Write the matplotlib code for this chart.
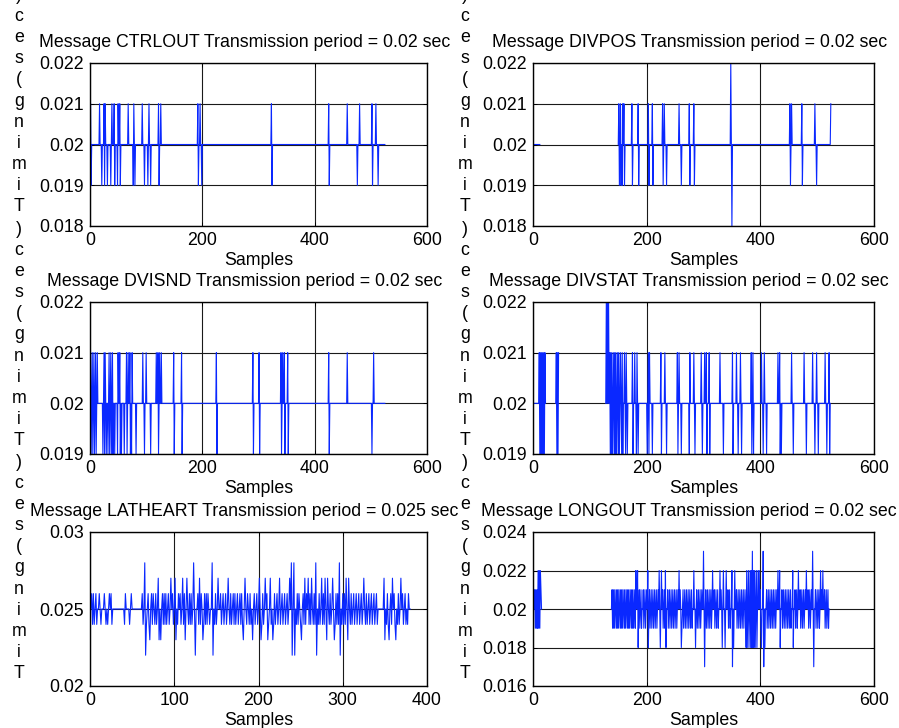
import numpy as np
import matplotlib
matplotlib.use('Agg')
from matplotlib import pyplot as plt
from matplotlib.ticker import FuncFormatter, MultipleLocator

plt.rcParams['font.family'] = 'Liberation Sans'
plt.rcParams['font.size'] = 12.8

# Interval between consecutive messages, in ms. Samples that are not
# listed sit at the nominal period; gaps are sample ranges with no record.
ctrlout_n = 525
ctrlout_nominal = 20
ctrlout_dev = {
    21: [1, 17, 25, 27, 39, 43, 50, 53, 68, 78, 93, 105, 122, 126, 192, 196,
         323, 425, 458, 480, 502, 509],
    19: [2, 21, 26, 31, 37, 44, 49, 54, 77, 80, 97, 103, 108, 123, 193, 199,
         324, 426, 476, 503, 513],
}
ctrlout_gaps = []

divpos_n = 524
divpos_nominal = 20
divpos_dev = {
    22: [348],
    21: [151, 154, 158, 160, 174, 185, 203, 210, 228, 231, 257, 275, 283,
         452, 455, 473, 496, 524],
    19: [152, 155, 157, 161, 175, 186, 204, 211, 229, 235, 261, 276, 284,
         453, 474, 499],
    18: [350],
}
divpos_gaps = [(13, 149)]

dvisnd_n = 525
dvisnd_nominal = 20
dvisnd_dev = {
    21: [1, 4, 7, 10, 13, 25, 27, 34, 37, 40, 50, 53, 65, 68, 71, 75, 94, 100,
         118, 121, 124, 127, 149, 163, 225, 290, 301, 340, 343, 346, 352, 425,
         458, 505],
    19: [2, 5, 8, 11, 23, 26, 29, 32, 35, 38, 41, 44, 49, 54, 56, 61, 66, 72,
         74, 82, 97, 108, 122, 150, 164, 226, 291, 302, 341, 347, 353, 426, 502],
}
dvisnd_gaps = []

divstat_n = 523
divstat_nominal = 20
divstat_dev = {
    22: [129, 131, 133],
    21: [11, 13, 15, 17, 19, 21, 41, 43, 45,
         135, 137, 139, 142, 144, 146, 149, 151, 154, 157, 161, 164, 175, 179,
         183, 203, 205, 225, 232, 254, 257, 276, 283, 296, 302, 305, 310, 329,
         351, 358, 365, 384, 387, 402, 407, 431, 434, 455, 477, 492, 499, 514,
         521],
    19: [12, 14, 16, 18, 20, 42, 44,
         136, 138, 140, 143, 145, 147, 150, 152, 156, 158, 163, 166, 176, 182,
         185, 201, 204, 210, 226, 235, 255, 261, 275, 285, 298, 306, 311, 335,
         352, 361, 367, 385, 388, 405, 411, 435, 437, 458, 481, 496, 502, 517,
         522],
}
divstat_gaps = [(23, 39), (46, 127)]

latheart_n = 380
latheart_nominal = 25
latheart_dev = {
    28: [65, 123, 145, 239, 242, 268, 296],
    27: [81, 96, 101, 110, 115, 130, 152, 164, 184, 201, 208, 214, 225, 237,
         255, 259, 263, 275, 279, 282, 288, 304, 307, 325, 349, 359, 369],
    26: [2, 4, 7, 11, 17, 23, 25, 42, 49, 62, 69, 73, 75, 78, 86, 88, 90, 93,
         98, 105, 107, 112, 118, 120, 128, 132, 136, 138, 140, 149, 155, 158,
         161, 167, 170, 172, 175, 178, 180, 187, 190, 195, 198, 205, 210, 219,
         222, 228, 231, 234, 246, 248, 253, 257, 261, 266, 272, 277, 285, 292,
         294, 300, 302, 310, 313, 316, 319, 322, 328, 331, 334, 337, 340, 353,
         357, 361, 366, 371, 374, 378],
    24: [3, 5, 8, 13, 19, 21, 26, 41, 47, 63, 67, 70, 74, 77, 79, 87, 89, 91,
         94, 99, 104, 108, 111, 117, 119, 121, 129, 131, 135, 137, 139, 142,
         148, 150, 156, 159, 162, 166, 168, 171, 173, 176, 179, 181, 186, 189,
         191, 196, 199, 204, 206, 212, 215, 218, 220, 223, 226, 229, 232, 235,
         245, 247, 250, 254, 256, 260, 262, 265, 267, 271, 273, 276, 278, 284,
         286, 291, 293, 295, 299, 301, 303, 309, 311, 314, 317, 320, 323, 327,
         329, 332, 335, 338, 341, 352, 354, 358, 362, 365, 367, 372, 375, 377],
    23: [71, 82, 84, 102, 113, 134, 182, 193, 203, 211, 217, 251, 281, 290,
         306, 350, 355, 363],
    22: [66, 125, 146, 240, 243, 269, 297],
}
latheart_gaps = []

longout_n = 521
longout_nominal = 20
longout_dev = {
    23: [300, 386, 405, 492],
    22: [9, 11, 13,
         181, 184, 202, 222, 226, 233, 257, 283, 316, 329, 335, 340, 350, 355,
         376, 379, 382, 384, 388, 390, 393, 396, 398, 431, 434, 457,
         467, 481, 506, 510],
    21: [3, 5, 7, 14,
         139, 141, 143, 146, 148, 150, 153, 155, 157, 160, 162, 165, 167, 169,
         172, 174, 176, 179,
         187, 190, 194, 197, 200, 205, 208, 211, 214, 217, 220, 228, 231, 237,
         240, 243, 246, 249, 252, 255, 259, 264, 267, 270, 273, 276, 279, 288,
         291, 294, 297, 304, 307, 310, 313, 319, 322, 325, 331, 343, 346, 358,
         361, 364, 367, 370, 373, 400, 411, 414, 417, 420, 423, 426, 429, 438,
         441, 444, 447, 450, 453, 461, 464, 470, 473, 476, 479, 484, 487, 490,
         497, 500, 503, 508, 513, 516, 519],
    19: [4, 6, 8, 10, 12,
         140, 142, 144, 147, 149, 151, 154, 156, 158, 161, 163, 166, 168, 170,
         173, 175, 177, 180,
         188, 191, 195, 198, 206, 209, 212, 215, 218, 229, 232, 238, 241, 244,
         247, 250, 253, 262, 265, 268, 271, 274, 277, 280, 289, 292, 295, 305,
         308, 311, 314, 320, 323, 326, 344, 347, 359, 362, 365, 368, 371, 401,
         412, 415, 418, 421, 424, 427, 439, 442, 445, 448, 451, 454, 462, 465,
         471, 474, 477, 485, 488, 498, 501, 504, 514, 517, 520],
    18: [185, 203, 224, 234, 261, 286, 333, 338, 353, 375, 377, 380, 383,
         385, 387, 389, 391, 394, 402, 408, 435, 458],
    17: [302, 351, 406, 494],
}
longout_gaps = [(16, 137)]


def build_series(n, nominal, dev, gaps):
    y = np.full(n, nominal, dtype=float)
    for ms, samples in dev.items():
        y[np.array(samples) - 1] = ms
    for a, b in gaps:
        y[a - 1:b] = np.nan
    return np.arange(1, n + 1), y / 1000.0


# name, period label, series, xmax, xstep, ymin, ymax, ystep
panels = [
    ('CTRLOUT', '0.02', build_series(ctrlout_n, ctrlout_nominal, ctrlout_dev, ctrlout_gaps),
     600, 200, 0.018, 0.022, 0.001),
    ('DIVPOS', '0.02', build_series(divpos_n, divpos_nominal, divpos_dev, divpos_gaps),
     600, 200, 0.018, 0.022, 0.001),
    ('DVISND', '0.02', build_series(dvisnd_n, dvisnd_nominal, dvisnd_dev, dvisnd_gaps),
     600, 200, 0.019, 0.022, 0.001),
    ('DIVSTAT', '0.02', build_series(divstat_n, divstat_nominal, divstat_dev, divstat_gaps),
     600, 200, 0.019, 0.022, 0.001),
    ('LATHEART', '0.025', build_series(latheart_n, latheart_nominal, latheart_dev, latheart_gaps),
     400, 100, 0.02, 0.03, 0.005),
    ('LONGOUT', '0.02', build_series(longout_n, longout_nominal, longout_dev, longout_gaps),
     600, 200, 0.016, 0.024, 0.002),
]

W, H = 899, 728
col_x = [(90, 337), (533, 341)]
row_y = [(63, 163), (302, 152), (532, 154)]
label_x = [19, 465]
label_y = [101, 335, 568]

fig = plt.figure(figsize=(W / 100, H / 100), dpi=100)
fmt = FuncFormatter(lambda v, pos: f'{v:g}')
stacked = '\n'.join(reversed('Timing(sec)'))

for i, (name, period, (x, y), xmax, xstep, ymin, ymax, ystep) in enumerate(panels):
    r, c = divmod(i, 2)
    x0, w = col_x[c]
    y0, h = row_y[r]
    ax = fig.add_axes([x0 / W, 1 - (y0 + h) / H, w / W, h / H])
    ax.plot(x, y, color='#0a28ff', lw=0.8)
    ax.set_xlim(0, xmax)
    ax.set_ylim(ymin, ymax)
    ax.xaxis.set_major_locator(MultipleLocator(xstep))
    ax.yaxis.set_major_locator(MultipleLocator(ystep))
    ax.yaxis.set_major_formatter(fmt)
    ax.grid(True, color='#1a1a1a', lw=0.8)
    ax.tick_params(direction='in', length=3, width=0.7, top=True, right=True,
                   pad=4.3)
    for s in ax.spines.values():
        s.set_linewidth(1.0)
    ax.set_xlabel('Samples', labelpad=2.5)
    ax.set_title(f'Message {name} Transmission period = {period} sec',
                 x=0.458, pad=11.3, fontsize=12.8)
    fig.text(label_x[c] / W, 1 - label_y[r] / H, stacked, ha='center',
             va='center', multialignment='center', linespacing=1.32)

fig.savefig('out.png', dpi=100)
